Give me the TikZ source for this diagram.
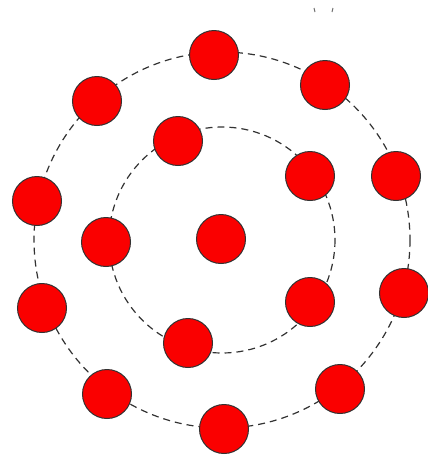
\documentclass[tikz,border=0pt]{standalone}
\usepackage{tikz}
\usetikzlibrary{positioning}
\usepackage{xcolor}
\definecolor{dotred}{RGB}{250,0,0}
\definecolor{ringgray}{RGB}{50,50,50}

\tikzset{
  ball/.style={circle, fill=dotred, draw=ringgray, line width=1pt, minimum size=49pt, inner sep=0pt},
  ring/.style={ringgray, line width=1.2pt, dash pattern=on 7pt off 5pt}
}

\begin{document}
\begin{tikzpicture}[x=1pt, y=-1pt]
  \useasboundingbox (0,0) rectangle (428,459);
  % dashed orbits
  \coordinate (mid) at (222,240);
  \draw[ring] (mid) circle[radius=113];
  \draw[ring] (mid) circle[radius=188];
  % small marks at the top
  \draw[ringgray!70, line width=1pt] (314,8) -- (315,12);
  \draw[ringgray!70, line width=1pt] (333,8) -- (332,12);
  % centre
  \node[ball] (c) at (221,239) {};
  % inner orbit
  \node[ball] (i1) at (178,141) {};
  \node[ball] (i2) at (310,176) {};
  \node[ball] (i3) at (310,302) {};
  \node[ball] (i4) at (188,343) {};
  \node[ball] (i5) at (106,242) {};
  % outer orbit
  \node[ball] (o1) at (214,55) {};
  \node[ball] (o2) at (325,85) {};
  \node[ball] (o3) at (396,176) {};
  \node[ball] (o4) at (404,293) {};
  \node[ball] (o5) at (340,389) {};
  \node[ball] (o6) at (224,429) {};
  \node[ball] (o7) at (107,394) {};
  \node[ball] (o8) at (42,308) {};
  \node[ball] (o9) at (37,201) {};
  \node[ball] (o10) at (97,101) {};
\end{tikzpicture}
\end{document}
